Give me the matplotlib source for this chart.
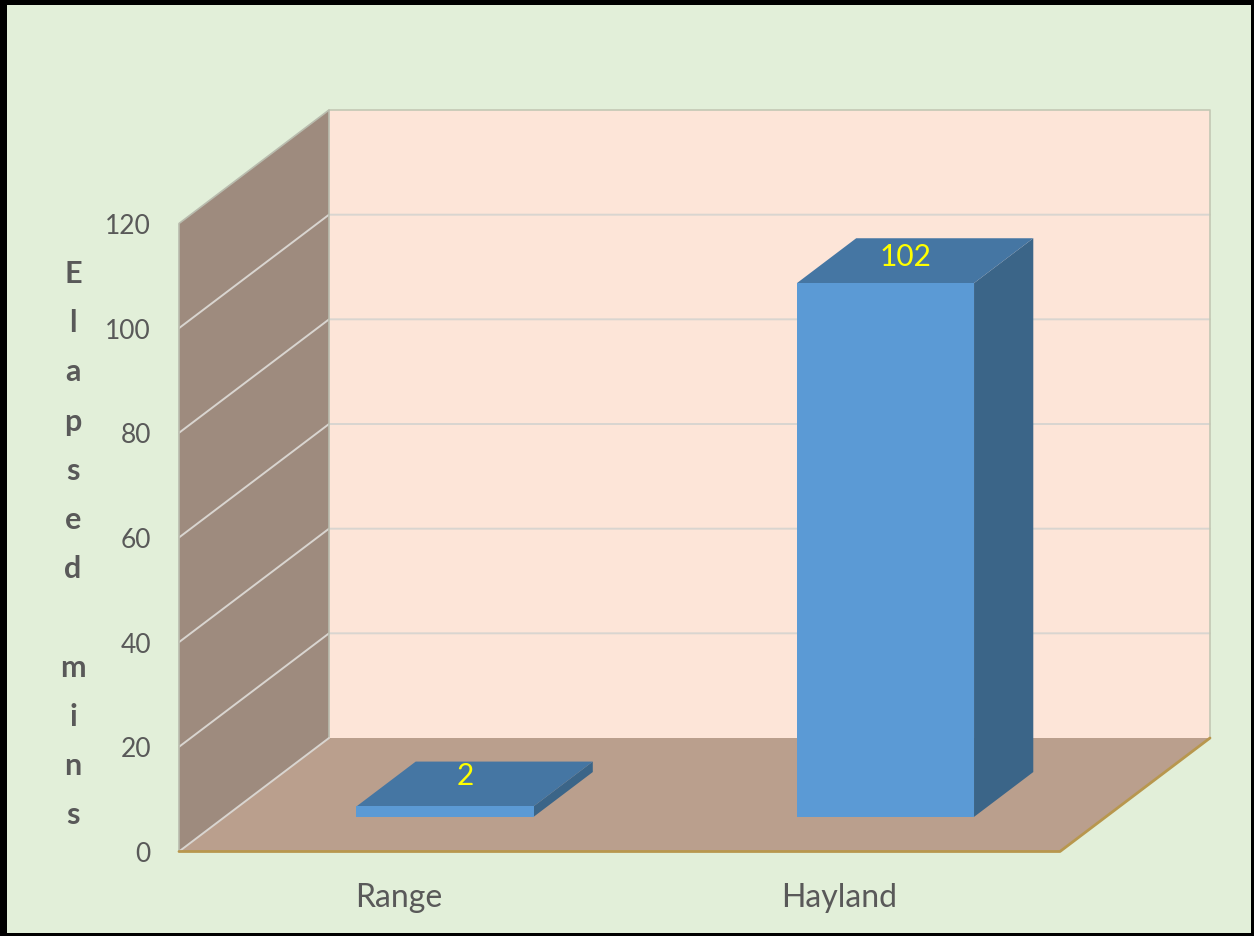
#!/usr/bin/env python3
"""Elapsed minutes per site, drawn as an oblique 3D column chart."""

import matplotlib
matplotlib.use('Agg')
import matplotlib.pyplot as plt
from matplotlib.patches import Polygon, Rectangle

categories = ['Range', 'Hayland']
values = [2, 102]
y_ticks = [0, 20, 40, 60, 80, 100, 120]
y_title = ['E', 'l', 'a', 'p', 's', 'e', 'd', '', 'm', 'i', 'n', 's']

plt.rcParams['font.family'] = ['Lato', 'DejaVu Sans']

# plot box and projection (pixels of the 1254x937 canvas)
X0, Y0 = 179, 852.5
BOX_W = 881
PX_PER_UNIT = 628 / 120
DEPTH_X, DEPTH_Y = 150, 113.5
YMAX = y_ticks[-1]

BAR_WIDTH = 0.402  # share of a category slot
BAR_D0, BAR_D1 = 0.305, 0.70  # depth span of the bars
LABEL_DY = [13, 18]  # data label offset below the back edge of the bar top

TEXT = '#595959'
GRID = '#d9d5d0'
BG = '#e2efd9'


def project(x, v, d=0.0):
    """x: 0-1 across the box, v: data value, d: 0-1 front to back"""
    return (X0 + x * BOX_W + d * DEPTH_X, Y0 - v * PX_PER_UNIT - d * DEPTH_Y)


def face(ax, pts, color, z=1, edge='none', lw=0):
    ax.add_patch(Polygon([project(*p) for p in pts], closed=True, facecolor=color,
                         edgecolor=edge, linewidth=lw, zorder=z))


def line(ax, pts, color, lw, z=2):
    xy = [project(*p) for p in pts]
    ax.plot([q[0] for q in xy], [q[1] for q in xy], color=color, linewidth=lw,
            zorder=z, solid_capstyle='round')


def draw_walls(ax):
    face(ax, [(0, 0, 1), (1, 0, 1), (1, YMAX, 1), (0, YMAX, 1)], '#fde5d8')
    face(ax, [(0, 0, 0), (0, 0, 1), (0, YMAX, 1), (0, YMAX, 0)], '#9e8b7e')
    face(ax, [(0, 0, 0), (1, 0, 0), (1, 0, 1), (0, 0, 1)], '#ba9f8d')

    for t in y_ticks[1:-1]:
        line(ax, [(0, t, 0), (0, t, 1), (1, t, 1)], GRID, 1.4)
    line(ax, [(0, YMAX, 1), (1, YMAX, 1), (1, 0, 1)], '#c3c8b4', 1.2)
    line(ax, [(0, 0, 0), (0, YMAX, 0), (0, YMAX, 1), (0, 0, 1)], '#b9bcae', 1.2)
    line(ax, [(0, 0, 0), (0, 0, 1)], GRID, 1.4)
    line(ax, [(0, 0, 0), (1, 0, 0), (1, 0, 1)], '#b8974e', 2.0, z=3)


def draw_bars(ax):
    n = len(categories)
    for i, (name, v) in enumerate(zip(categories, values)):
        cx = (i + 0.5) / n
        half = BAR_WIDTH / n / 2
        x0, x1 = cx - half, cx + half
        face(ax, [(x1, 0, BAR_D0), (x1, 0, BAR_D1), (x1, v, BAR_D1), (x1, v, BAR_D0)],
             '#3b6588', z=4)
        face(ax, [(x0, v, BAR_D0), (x1, v, BAR_D0), (x1, v, BAR_D1), (x0, v, BAR_D1)],
             '#4576a3', z=4)
        face(ax, [(x0, 0, BAR_D0), (x1, 0, BAR_D0), (x1, v, BAR_D0), (x0, v, BAR_D0)],
             '#5b9ad5', z=5)

        lx, ly = project(cx, v, BAR_D1)
        ax.text(lx - 39, ly + LABEL_DY[i], str(v), color='#ffff00', fontsize=21.5,
                ha='center', va='center', zorder=6)
        tx, ty = project(cx, 0, 0)
        ax.text(tx - 1, ty + 46, name, color=TEXT, fontsize=23, ha='center', va='center')


def draw_labels(ax):
    for t in y_ticks:
        px, py = project(0, t, 0)
        ax.text(px - 28, py + 2, str(t), color=TEXT, fontsize=19, ha='right', va='center')
    for i, ch in enumerate(y_title):
        if ch:
            ax.text(73, 274 + i * 49.2, ch, color=TEXT, fontsize=22, fontweight='bold',
                    ha='center', va='center')


def main():
    fig = plt.figure(figsize=(12.54, 9.37), dpi=100)
    ax = fig.add_axes([0, 0, 1, 1])
    ax.set_xlim(0, 1254)
    ax.set_ylim(937, 0)
    ax.axis('off')

    # page background and thick black frame
    ax.add_patch(Rectangle((0, 0), 1254, 937, facecolor='black', edgecolor='none', zorder=0))
    ax.add_patch(Rectangle((7, 6), 1244, 928, facecolor=BG, edgecolor='none', zorder=0.5))

    draw_walls(ax)
    draw_bars(ax)
    draw_labels(ax)

    fig.savefig('out.png', dpi=100)
    plt.close(fig)


if __name__ == '__main__':
    main()
